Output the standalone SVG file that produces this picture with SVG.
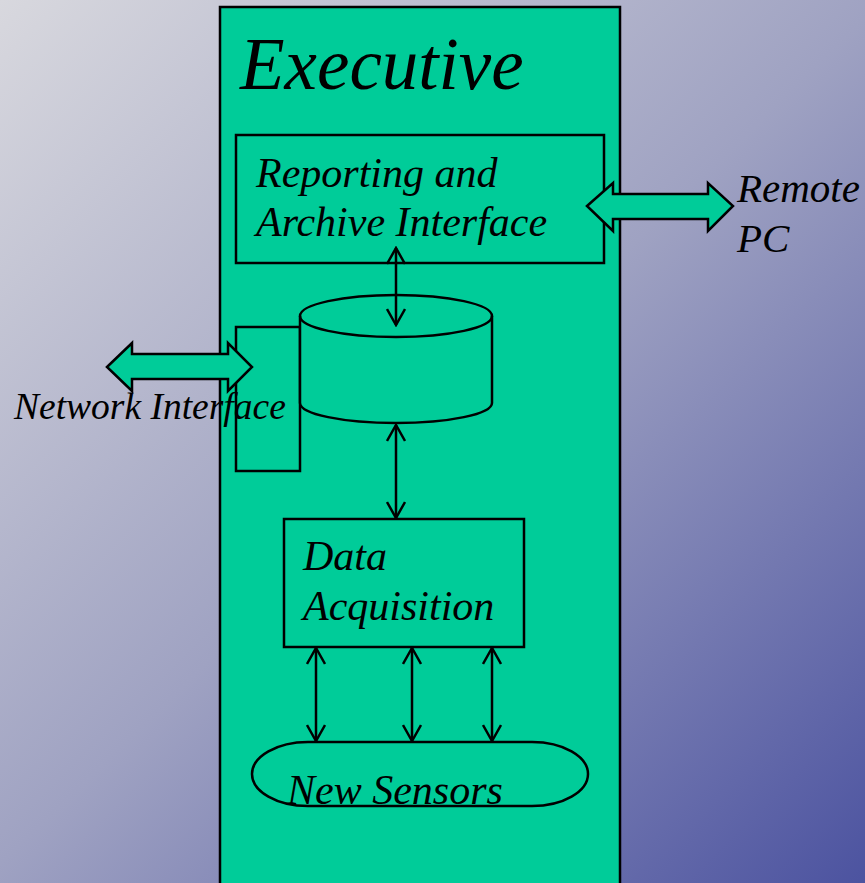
<svg xmlns="http://www.w3.org/2000/svg" width="865" height="883" viewBox="0 0 865 883">
  <defs>
    <linearGradient id="bg" x1="0" y1="0" x2="865" y2="883" gradientUnits="userSpaceOnUse">
      <stop offset="0" stop-color="#d8d8de"/>
      <stop offset="0.5" stop-color="#9fa2c2"/>
      <stop offset="1" stop-color="#4c53a0"/>
    </linearGradient>
    <marker id="head" viewBox="0 0 20 20" markerWidth="20" markerHeight="20" refX="18" refY="10" markerUnits="userSpaceOnUse" orient="auto-start-reverse">
      <path d="M2,1 L18,10 L2,19" fill="none" stroke="#000" stroke-width="2.5"/>
    </marker>
    <style>
      .box { fill: #00cc99; stroke: #000; stroke-width: 2.5; }
      .link { stroke: #000; stroke-width: 2.5; fill: none; marker-start: url(#head); marker-end: url(#head); }
      .big { fill: #00cc99; stroke: #000; stroke-width: 2.5; stroke-linejoin: miter; }
      .lbl { font-family: "Liberation Serif", "Times New Roman", serif; font-style: italic; font-size: 42px; fill: #000; }
    </style>
  </defs>

  <rect x="0" y="0" width="865" height="883" fill="url(#bg)"/>

  <g id="executive">
    <rect class="box" x="220" y="7" width="400" height="890"/>
    <text class="lbl" x="240" y="89" style="font-size:73px">Executive</text>
  </g>

  <g id="reporting">
    <rect class="box" x="236" y="135" width="368" height="128"/>
    <text class="lbl" x="256" y="187">Reporting and</text>
    <text class="lbl" x="256" y="236">Archive Interface</text>
  </g>

  <g id="network-interface">
    <rect class="box" x="236" y="327" width="64" height="144"/>
  </g>

  <g id="database">
    <path class="box" d="M300,316 A96,21 0 0 1 492,316 L492,403 A96,20 0 0 1 300,403 Z"/>
    <path d="M300,316 A96,21 0 0 0 492,316" fill="none" stroke="#000" stroke-width="2.5"/>
  </g>

  <g id="data-acquisition">
    <rect class="box" x="284" y="519" width="240" height="128"/>
    <text class="lbl" x="303" y="570">Data</text>
    <text class="lbl" x="303" y="620">Acquisition</text>
  </g>

  <g id="new-sensors">
    <rect class="box" x="252" y="742" width="336" height="64" rx="56" ry="32"/>
    <text class="lbl" x="287" y="804">New Sensors</text>
  </g>

  <g id="remote-pc">
    <text class="lbl" x="737" y="202" style="font-size:41px">Remote</text>
    <text class="lbl" x="737" y="252" style="font-size:41px">PC</text>
  </g>

  <g id="network-label">
    <text class="lbl" x="14" y="419" style="font-size:37.5px">Network Interface</text>
  </g>

  <g id="connectors">
    <path class="big" d="M587,206 L613,183 L613,194 L708,194 L708,183 L733,206 L708,231 L708,219 L613,219 L613,231 Z"/>
    <path class="big" d="M107,367 L132,343 L132,354 L228,354 L228,343 L252,367 L228,391 L228,379 L132,379 L132,391 Z"/>
    <line class="link" x1="396" y1="248" x2="396" y2="325"/>
    <line class="link" x1="396" y1="425" x2="396" y2="518"/>
    <line class="link" x1="316" y1="648" x2="316" y2="741"/>
    <line class="link" x1="412" y1="648" x2="412" y2="741"/>
    <line class="link" x1="492" y1="648" x2="492" y2="741"/>
  </g>
</svg>
